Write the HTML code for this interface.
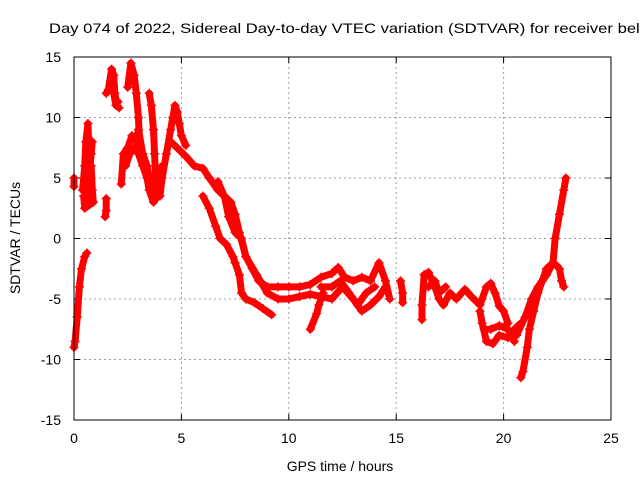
<!DOCTYPE html>
<html><head><meta charset="utf-8"><style>
html,body{margin:0;padding:0;background:#fff;}
svg{display:block;font-family:"Liberation Sans",sans-serif;}
</style></head><body>
<svg id="chart" width="640" height="480" viewBox="0 0 640 480">
<text x="49" y="33" font-size="14" textLength="600" lengthAdjust="spacingAndGlyphs">Day 074 of 2022, Sidereal Day-to-day VTEC variation (SDTVAR) for receiver bele</text>
<g id="grid"></g>
<g id="ticks"></g>
<g id="series"></g>
<rect x="74" y="57" width="537" height="363" fill="none" stroke="#000" stroke-width="1"/>
<text x="340" y="471" font-size="14" text-anchor="middle">GPS time / hours</text>
<text transform="translate(20,238) rotate(-90)" font-size="14" text-anchor="middle">SDTVAR / TECUs</text>
</svg>
<script>
const xTicks=[0,5,10,15,20,25];
const yTicks=[-15,-10,-5,0,5,10,15];
const traceA=[[0,-9],[0.05,-8.5],[0.15,-6.5],[0.25,-4],[0.35,-2.5],[0.5,-1.5],[0.6,-1.2]];
const traceB=[[0.4,4],[0.5,6],[0.55,8],[0.65,9.5],[0.7,7],[0.75,5],[0.8,6],[0.85,4],[0.9,3],[0.5,2.5],[0.45,3.5]];
const traceB1=[[0.6,3],[0.7,5],[0.8,7],[0.85,8]];
const traceB2=[[0,4.3],[0,5]];
const traceB3=[[1.45,1.8],[1.5,2.3],[1.5,3.3]];
const traceC=[[1.5,12],[1.6,12.3],[1.75,14],[1.85,13.5],[1.9,12],[2.0,11],[2.1,10.8]];
const traceC1=[[1.75,13],[1.85,12],[1.95,11],[2.05,11.3]];
const traceD=[[2.5,12.5],[2.65,14.5],[2.8,13.5],[2.9,12],[3.0,10],[3.05,8],[3.1,7]];
const traceE=[[2.2,4.5],[2.3,7],[2.5,7.5],[2.7,8.5],[2.9,8],[3.0,9],[3.2,7],[3.4,6],[3.6,4],[3.7,3.5],[3.8,4],[3.9,5],[4.0,5.5],[4.1,6]];
const traceE1=[[2.4,6],[2.6,7],[2.8,7.5],[3.0,7],[3.2,6],[3.4,5],[3.5,4],[3.7,3],[3.9,3.5]];
const traceF=[[3.5,12],[3.6,11],[3.7,9],[3.75,7],[3.8,5],[3.9,4],[4.0,3.5],[4.1,5],[4.3,7],[4.5,9],[4.6,10],[4.7,11],[4.8,10.5],[4.9,9.5],[5.0,8.5],[5.2,7.7]];
const traceG=[[4.5,8],[4.8,7.5],[5.2,6.8],[5.6,6],[6.0,5.8],[6.3,5],[6.7,4],[7.0,3.5],[7.3,3],[7.5,2],[7.7,0.5],[8.0,-1.5],[8.3,-2.5],[8.6,-3.5],[9.0,-4],[9.5,-4],[10,-4],[10.5,-4],[11,-3.8],[11.5,-3.2],[12,-2.9],[12.3,-2.4],[12.6,-3.2],[13,-3.5],[13.4,-3.2],[13.8,-3.5],[14.2,-2],[14.5,-3.5],[14.7,-5]];
const traceH=[[6.7,4.7],[7.0,3.5],[7.2,1.8],[7.5,0.5],[7.8,0],[8.0,-1.5],[8.5,-3],[9,-4.5],[9.5,-5],[10,-5],[10.5,-4.8],[11,-4.6],[11.5,-4.8],[12,-5],[12.5,-4],[13,-5],[13.4,-6],[13.8,-5.5],[14.2,-4.8],[14.5,-4]];
const traceH1=[[11.5,-4],[12,-4],[12.4,-3.5],[12.8,-4.5],[13.2,-5.5],[13.6,-4.5],[14,-4]];
const traceI=[[6.0,3.5],[6.3,2.5],[6.6,1],[6.8,0],[7.1,-0.5],[7.4,-1.5],[7.5,-2],[7.7,-3],[7.8,-4.5],[8.0,-5],[8.4,-5.3],[8.8,-5.8],[9.2,-6.3]];
const traceJ=[[11,-7.5],[11.3,-6.2],[11.4,-5.5],[11.6,-4.5]];
const traceK=[[15.2,-3.5],[15.3,-4.5],[15.3,-5.3]];
const traceL=[[16.2,-6.7],[16.2,-5.5],[16.3,-3],[16.5,-2.8],[16.8,-4],[17,-5],[17.2,-5.5],[17.5,-4.5],[17.8,-5],[18.2,-4.2],[18.5,-4.8],[18.9,-5.5],[19.0,-5],[19.2,-4],[19.4,-3.7],[19.6,-4.5],[19.8,-5.6],[20,-6],[20.2,-7]];
const traceL1=[[16.5,-4],[16.8,-3.5],[17,-4.5],[17.3,-4]];
const traceM=[[18.9,-6],[19.0,-7],[19.2,-8.5],[19.5,-8.7],[19.8,-8],[20.2,-8.2],[20.5,-7.5],[20.8,-7]];
const traceM1=[[19.1,-7.5],[19.4,-7.5],[19.8,-7.2],[20.2,-7.5],[20.5,-8.5]];
const traceN=[[20.8,-11.5],[20.9,-11],[21.1,-9],[21.2,-7.5],[21.4,-6],[21.6,-4.5],[21.8,-3.5],[22,-2.5],[22.3,-2],[22.5,-2.3],[22.6,-2.5],[22.7,-3.5],[22.8,-4]];
const traceO=[[20.6,-8],[21,-6.5],[21.3,-5],[21.6,-4],[22,-3],[22.3,-2],[22.4,0],[22.6,2],[22.8,4],[22.9,5]];
const traces=[traceA,traceB,traceB1,traceB2,traceB3,traceC,traceC1,traceD,traceE,traceE1,traceF,traceG,traceH,traceH1,traceI,traceJ,traceK,traceL,traceL1,traceM,traceM1,traceN,traceO];

const X0=74,X1=611,Y0=420,Y1=57,xmin=0,xmax=25,ymin=-15,ymax=15;
function sx(v){return X0+(v-xmin)/(xmax-xmin)*(X1-X0);}
function sy(v){return Y0-(v-ymin)/(ymax-ymin)*(Y0-Y1);}
const NS="http://www.w3.org/2000/svg";
function mk(tag,attrs,parent){const e=document.createElementNS(NS,tag);for(const k in attrs)e.setAttribute(k,attrs[k]);parent.appendChild(e);return e;}
const grid=document.getElementById('grid'),ticks=document.getElementById('ticks'),series=document.getElementById('series');
xTicks.forEach(t=>{
  const x=sx(t);
  if(t>xmin&&t<xmax){const g=mk('line',{x1:x,x2:x,y1:Y1,y2:Y0,stroke:'#a0a0a0','stroke-dasharray':'2,3'},grid);
  
  }
  mk('line',{x1:x,x2:x,y1:Y0,y2:Y0-6,stroke:'#000'},ticks);
  mk('line',{x1:x,x2:x,y1:Y1,y2:Y1+6,stroke:'#000'},ticks);
  const l=mk('text',{x:x,y:Y0+23,'font-size':14,'text-anchor':'middle'},ticks);
  l.textContent=t;
  
  
});
yTicks.forEach(t=>{
  const y=sy(t);
  if(t>ymin&&t<ymax){const g=mk('line',{x1:X0,x2:X1,y1:y,y2:y,stroke:'#a0a0a0','stroke-dasharray':'2,3'},grid);
  
  }
  mk('line',{x1:X0,x2:X0+6,y1:y,y2:y,stroke:'#000'},ticks);
  mk('line',{x1:X1,x2:X1-6,y1:y,y2:y,stroke:'#000'},ticks);
  const l=mk('text',{x:X0-13,y:y+5,'font-size':14,'text-anchor':'end'},ticks);
  l.textContent=t;
  
  
});
traces.forEach(tr=>{
  const pts=tr.map(p=>sx(p[0])+','+sy(p[1])).join(' ');
  const pl=mk('polyline',{points:pts,fill:'none',stroke:'#ff0000','stroke-width':7,'stroke-linejoin':'round','stroke-linecap':'round'},series);
  
  
  tr.forEach(p=>{
    const x=sx(p[0]),y=sy(p[1]);
    const m=mk('path',{d:`M${x-4.5},${y}H${x+4.5}M${x},${y-4.5}V${y+4.5}`,stroke:'#ff0000','stroke-width':1.5},series);
    
    
  });
});
</script>
</body></html>
